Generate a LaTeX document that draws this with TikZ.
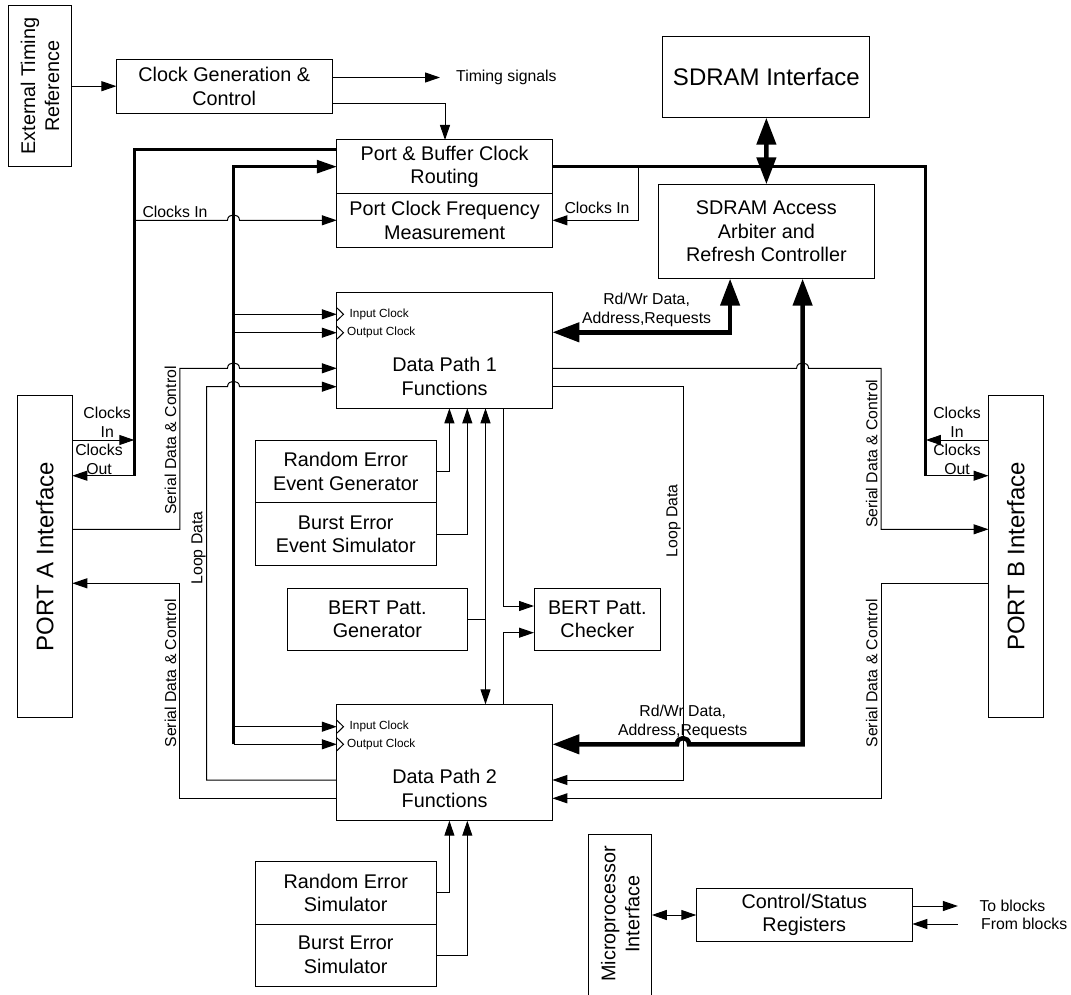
\documentclass[tikz,border=0pt]{standalone}
\usepackage{fontspec}
\setmainfont{Liberation Sans}
\usetikzlibrary{arrows.meta}
\begin{document}
\begin{tikzpicture}[x=1pt,y=-1pt,
  blk/.style={draw, line width=1pt, inner sep=0pt, outer sep=0pt, align=center, font=\fontsize{19.8}{23.5}\selectfont},
  txt/.style={inner sep=0pt, align=center, font=\fontsize{19.8}{24}\selectfont},
  big/.style={font=\fontsize{24}{28}\selectfont},
  lbl/.style={inner sep=0pt, align=center, font=\fontsize{15.8}{18.6}\selectfont},
  clk/.style={inner sep=0pt, anchor=west, font=\fontsize{11.8}{14}\selectfont},
  ln/.style={line width=1pt},
  arr/.style={line width=1pt, -{Triangle[length=15pt,width=10pt]}},
  arr2/.style={line width=1pt, {Triangle[length=15pt,width=10pt]}-{Triangle[length=15pt,width=10pt]}},
  clkbus/.style={line width=2.8pt},
  clkbusarr/.style={line width=2.8pt, -{Triangle[length=20pt,width=13pt]}},
  databus/.style={line width=4.5pt, {Triangle[length=27pt,width=19pt]}-{Triangle[length=27pt,width=19pt]}},
]
\useasboundingbox (0,0) rectangle (1071,995);

% ---- blocks ----
\node[blk, minimum width=63, minimum height=161] (etr) at (40.1,86.2) {};
\node[txt, rotate=90] (etrt) at (etr.center) {External Timing\\Reference};
\node[blk, minimum width=215.6, minimum height=54] (cg) at (224.2,86.3) {Clock Generation \&\\Control};
\node[blk, big, minimum width=207.1, minimum height=81] (sdi) at (766.35,77.2) {SDRAM Interface};
\node[blk, minimum width=215.6, minimum height=53.3] (pb) at (444.6,166.65) {Port \& Buffer Clock\\Routing};
\node[blk, minimum width=215.6, minimum height=54] (pfm) at (444.6,220.3) {Port Clock Frequency\\Measurement};
\node[blk, minimum width=216, minimum height=94.4] (sda) at (766.4,231.5) {SDRAM Access\\Arbiter and\\Refresh Controller};
\node[blk, minimum width=215.6, minimum height=115.6] (dp1) at (444.6,350.5) {};
\node[txt] (dp1t) at (444.6,376) {Data Path 1\\Functions};
\node[blk, minimum width=215.6, minimum height=116.4] (dp2) at (444.6,762.5) {};
\node[txt] (dp2t) at (444.6,788.3) {Data Path 2\\Functions};
\node[blk, minimum width=180.5, minimum height=62.4] (reg) at (345.75,471.5) {Random Error\\Event Generator};
\node[blk, minimum width=180.5, minimum height=63] (bes) at (345.75,534.2) {Burst Error\\Event Simulator};
\node[blk, minimum width=179.8, minimum height=62.4] (bpg) at (377.4,619.5) {BERT Patt.\\Generator};
\node[blk, minimum width=126.7, minimum height=62.4] (bpc) at (597.35,619.5) {BERT Patt.\\Checker};
\node[blk, minimum width=180.5, minimum height=62.3] (res) at (345.75,892.85) {Random Error\\Simulator};
\node[blk, minimum width=180.5, minimum height=62] (bes2) at (345.75,955) {Burst Error\\Simulator};
\node[blk, minimum width=55.1, minimum height=322] (pa) at (44.75,556.7) {};
\node[txt, big, rotate=90] (pat) at (pa.center) {PORT A Interface};
\node[blk, minimum width=54.5, minimum height=322.7] (pbi) at (1015.75,556.35) {};
\node[txt, big, rotate=90] (pbit) at (pbi.center) {PORT B Interface};
\node[blk, minimum width=63.1, minimum height=162] (up) at (620.25,915) {};
\node[txt, rotate=90] (upt) at (620.2,914) {Microprocessor\\Interface};
\node[blk, minimum width=216, minimum height=53.4] (csr) at (804.3,915) {Control/Status\\Registers};

% ---- bus corner points ----
\coordinate (lbus) at (134.3,475.7);
\coordinate (cbus) at (233.5,744.3);
\coordinate (rbus) at (925.8,475.7);
\coordinate (tsend) at (440,77.5);
\coordinate (tob) at (957.9,906);
\coordinate (fromb) at (957.9,924);

% ---- clock generation ----
\draw[arr] (etr.east) -- (cg.west |- etr.east);
\draw[arr] (cg.east |- tsend) -- (tsend);
\draw[arr] (cg.east |- 0,103.5) -| (pb.north -| 445,0);

% ---- clock buses ----
\draw[clkbus] (pb.west |- 0,149.3) -| (lbus);
\draw[arr] (lbus) -- (pa.east |- lbus);
\draw[arr] (pa.east |- 0,440) -- (lbus |- 0,440);
\draw[clkbusarr] (cbus) |- (pb.west);
\draw[arr] (cbus |- 0,314.3) -- (dp1.west |- 0,314.3);
\draw[arr] (cbus |- 0,332.7) -- (dp1.west |- 0,332.7);
\draw[arr] (cbus |- 0,726.7) -- (dp2.west |- 0,726.7);
\draw[arr] (cbus) -- (dp2.west |- cbus);
\draw[clkbus] (pb.east) -| (rbus);
\draw[arr] (rbus) -- (pbi.west |- rbus);
\draw[arr] (pbi.west |- 0,440) -- (rbus |- 0,440);

% clocks in to frequency measurement
\draw[arr] (lbus |- pfm.west) -- (227.5,220.3) .. controls (227.5,213) and (239.5,213) .. (239.5,220.3) -- (pfm.west);
\draw[arr] (pb.east -| 638,0) |- (pfm.east);

% ---- SDRAM buses ----
\draw[databus] (sdi.south) -- (sda.north);
\draw[databus] (sda.south -| 730.1,0) |- (dp1.east |- 0,332.3);
\draw[databus] (sda.south -| 802.6,0) -- (802.6,744.3) -- (689,744.3) .. controls (689,736) and (677,736) .. (677,744.3) -- (dp2.east |- 0,744.3);

% ---- serial data and loop data ----
\draw[arr] (dp1.east |- 0,368.3) -- (796.6,368.3) .. controls (796.6,361) and (808.6,361) .. (808.6,368.3) -| (881,529.3) -- (pbi.west |- 0,529.3);
\draw[arr] (dp1.east |- 0,386.7) -| (683.3,780) -- (dp2.east |- 0,780);
\draw[arr] (pbi.west |- 0,583.3) -| (881,798.3) -- (dp2.east |- 0,798.3);
\draw[arr] (pa.east |- 0,529.3) -| (179.8,368.3) -- (227.5,368.3) .. controls (227.5,361) and (239.5,361) .. (239.5,368.3) -- (dp1.west |- 0,368.3);
\draw[arr] (dp2.west |- 0,780) -| (206.6,386.7) -- (227.5,386.7) .. controls (227.5,379.4) and (239.5,379.4) .. (239.5,386.7) -- (dp1.west |- 0,386.7);
\draw[arr] (dp2.west |- 0,798.3) -| (179.8,583.3) -- (pa.east |- 0,583.3);

% ---- error generators and BERT ----
\draw[arr] (reg.east) -| (dp1.south -| 449.4,0);
\draw[arr] (bes.east) -| (dp1.south -| 467.3,0);
\draw[arr2] (dp1.south -| 485.5,0) -- (dp2.north -| 485.5,0);
\draw[ln] (bpg.east) -- (bpg.east -| 485.5,0);
\draw[arr] (dp1.south -| 503.3,0) |- (bpc.west |- 0,606);
\draw[arr] (dp2.north -| 503.3,0) |- (bpc.west |- 0,632.7);
\draw[arr] (res.east) -| (dp2.south -| 449.4,0);
\draw[arr] (bes2.east) -| (dp2.south -| 467.3,0);

% ---- microprocessor side ----
\draw[arr2] (up.east |- csr.west) -- (csr.west);
\draw[arr] (csr.east |- tob) -- (tob);
\draw[arr] (fromb) -- (csr.east |- fromb);

% ---- clock input markers ----
\foreach \yy in {314.3,332.7,726.7,744.3}
  \draw[ln] (336.8,{\yy-6.5}) -- (343.5,\yy) -- (336.8,{\yy+6.5});

% ---- labels ----
\node[clk] (ic1) at (349.5,314.3) {Input Clock};
\node[clk] (oc1) at (347,332.7) {Output Clock};
\node[clk] (ic2) at (349.5,726.7) {Input Clock};
\node[clk] (oc2) at (347,744.3) {Output Clock};
\node[lbl, anchor=west] (tsl) at (456,77.5) {Timing signals};
\node[lbl] (cil) at (175,211.7) {Clocks In};
\node[lbl] (cir) at (597,208.3) {Clocks In};
\node[lbl] (rw1) at (646.6,310.2) {Rd/Wr Data,\\Address,Requests};
\node[lbl] (rw2) at (682.7,722.2) {Rd/Wr Data,\\Address,Requests};
\node[lbl] (cinl) at (107.2,422.2) {Clocks\\In};
\node[lbl] (coutl) at (99,459.2) {Clocks\\Out};
\node[lbl] (cinr) at (957,422.2) {Clocks\\In};
\node[lbl] (coutr) at (957,459.2) {Clocks\\Out};
\node[lbl, rotate=90] (sdl1) at (170.5,440.5) {Serial Data \& Control};
\node[lbl, rotate=90] (sdl2) at (170.5,673.3) {Serial Data \& Control};
\node[lbl, rotate=90] (sdr1) at (871.6,453.7) {Serial Data \& Control};
\node[lbl, rotate=90] (sdr2) at (871.6,673.3) {Serial Data \& Control};
\node[lbl, rotate=90] (ldl) at (198.7,548) {Loop Data};
\node[lbl, rotate=90] (ldr) at (673.5,520.8) {Loop Data};
\node[lbl, anchor=west] (tbl) at (979.3,906) {To blocks};
\node[lbl, anchor=west] (fbl) at (981,924) {From blocks};
\end{tikzpicture}
\end{document}
